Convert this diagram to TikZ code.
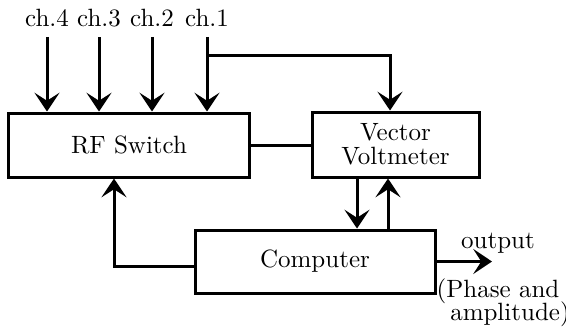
\documentclass[tikz,border=0pt]{standalone}
\usetikzlibrary{arrows.meta}
\begin{document}
\begin{tikzpicture}[x=0.4pt,y=-0.4pt,
  box/.style={draw,line width=1.2pt,rectangle,inner sep=0pt,font=\fontsize{10}{9.6}\selectfont,align=center},
  arr/.style={line width=1.2pt,-{Stealth[length=7.5pt,width=10pt,inset=3.2pt]}},
  ln/.style={line width=1.2pt},
  lab/.style={font=\fontsize{10}{12}\selectfont,inner sep=1pt}]
\useasboundingbox (0,0) rectangle (566,328);
\node[box,minimum width=96pt,minimum height=25.6pt] (rf) at (129,145) {RF Switch};
\node[box,minimum width=66.8pt,minimum height=26pt] (vv) at (395.5,144.5) {Vector\\Voltmeter};
\node[box,minimum width=96pt,minimum height=25.2pt] (comp) at (315,261.5) {Computer};
\node[lab,anchor=base] (l4) at (47,26) {ch.4};
\node[lab,anchor=base] (l3) at (99,26) {ch.3};
\node[lab,anchor=base] (l2) at (152,26) {ch.2};
\node[lab,anchor=base] (l1) at (207,26) {ch.1};
\draw[arr] ([yshift=-3pt]l4.south) -- (l4.south |- rf.north);
\draw[arr] ([yshift=-3pt]l3.south) -- (l3.south |- rf.north);
\draw[arr] ([yshift=-3pt]l2.south) -- (l2.south |- rf.north);
\draw[arr] ([yshift=-3pt]l1.south) -- (l1.south |- rf.north);
\coordinate (j) at (207,55);
\draw[arr] (j) -| ([xshift=-2.2pt]vv.north);
\draw[ln] (rf.east) -- (rf.east -| vv.west);
\coordinate (d) at (357,0);
\coordinate (u) at (388,0);
\draw[arr] (d |- vv.south) -- (d |- comp.north);
\draw[arr] (u |- comp.north) -- (u |- vv.south);
\coordinate (k) at (114,0);
\draw[arr] ([yshift=-1.8pt]comp.west) -| (k |- rf.south);
\coordinate (o) at (492,0);
\draw[arr] (comp.east) -- (comp.east -| o);
\node[lab] (out) at (498,243) {output};
\node[lab] (ph) at (498,291) {(Phase and};
\node[lab] (am) at (510,314) {amplitude)};
\end{tikzpicture}
\end{document}
